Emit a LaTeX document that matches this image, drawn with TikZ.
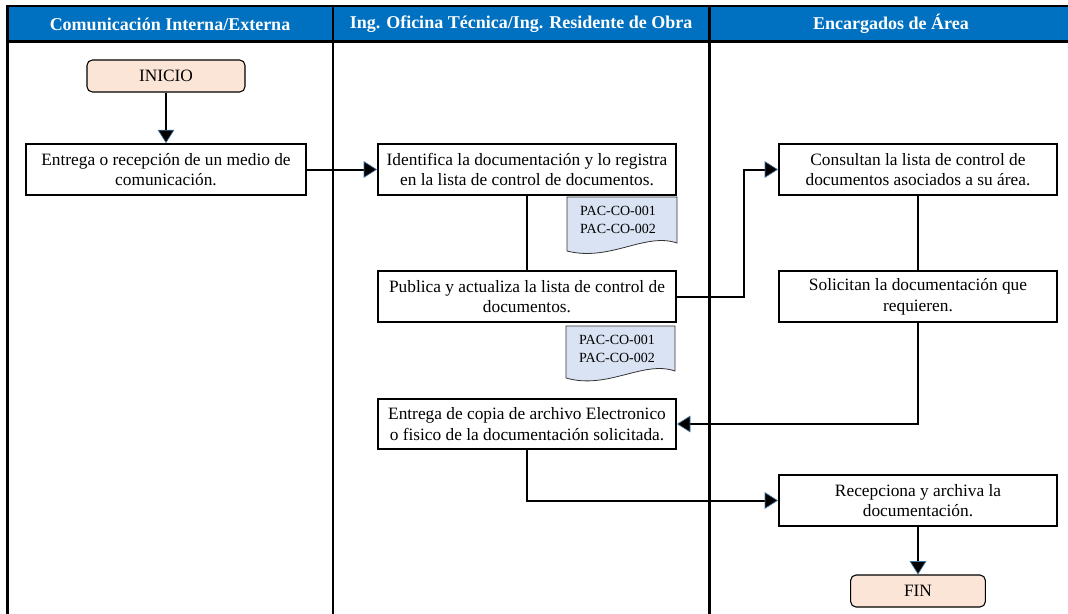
\documentclass[tikz,border=0pt]{standalone}
\usepackage{fontspec}
\setmainfont{Liberation Serif}
\usetikzlibrary{arrows.meta}
\definecolor{laneblue}{HTML}{0070C0}
\definecolor{termfill}{HTML}{FBE5D6}
\definecolor{docfill}{HTML}{DAE3F3}
\definecolor{tipblue}{HTML}{41719C}
\begin{document}
\begin{tikzpicture}[x=0.75pt, y=-0.75pt,
        proc/.style={draw, line width=1.5pt, fill=white, align=center, inner sep=0pt, minimum height=38pt, font=\fontsize{13}{15.5}\selectfont},
        term/.style={draw, line width=0.8pt, rounded corners=4pt, fill=termfill, minimum height=24pt, font=\fontsize{13}{15.5}\selectfont},
        docshape/.style={draw=black!80, line width=0.6pt, fill=docfill},
        doctext/.style={align=left, inner sep=0pt, font=\fontsize{10.5}{13.5}\selectfont},
        headtext/.style={text=white, font=\bfseries\fontsize{13.5}{15}\selectfont},
        lane/.style={line width=1.75pt},
        conn/.style={line width=1.5pt},
        arr/.style={conn, -{Triangle[length=10pt, width=12.5pt, color=tipblue, fill=black, line width=0.5pt]}}]
        \useasboundingbox (0,0) rectangle (1068,614);
        \fill[laneblue] (7,6) rectangle (1068,41);
        \draw[line width=1.5pt] (7,6) -- (1068,6);
        \draw[line width=2pt] (7,41.5) -- (1068,41.5);
        \foreach \lx in {7.5,333,709.5}
            \draw[lane] (\lx,5) -- (\lx,614);
        \node[headtext] (hcom) at (170,24) {Comunicación Interna/Externa};
        \node[headtext] (hing) at (521,24) {Ing. Oficina Técnica/Ing. Residente de Obra};
        \node[headtext] (henc) at (891,24) {Encargados de Área};

        \node[term, minimum width=118.5pt] (inicio) at (166,76) {INICIO};
        \node[proc, minimum width=210pt] (entrega) at (166,169.5) {Entrega o recepción de un medio de\\comunicación.};
        \node[proc, minimum width=223.5pt] (ident) at (527,169.5) {Identifica la documentación y lo registra\\en la lista de control de documentos.};
        \node[proc, minimum width=223.5pt] (publica) at (527,296.5) {Publica y actualiza la lista de control de\\documentos.};
        \node[proc, minimum width=223.5pt] (copia) at (527,424) {Entrega de copia de archivo Electronico\\o fisico de la documentación solicitada.};
        \node[proc, minimum width=208.5pt] (consultan) at (918,169.5) {Consultan la lista de control de\\documentos asociados a su área.};
        \node[proc, minimum width=208.5pt] (solicitan) at (918,296.5) {Solicitan la documentación que\\requieren.};
        \node[proc, minimum width=208.5pt] (recep) at (918,500.5) {Recepciona y archiva la\\documentación.};
        \node[term, minimum width=101pt] (fin) at (918,591) {FIN};

        \draw[docshape] (567,197) -- (677,197) -- (677,243) .. controls (645,232) and (610,262) .. (567,251) -- cycle;
        \node[doctext] (docA) at (618,220) {PAC-CO-001\\PAC-CO-002};
        \draw[docshape] (566,326) -- (675,326) -- (675,371) .. controls (643,360) and (608,390) .. (566,378) -- cycle;
        \node[doctext] (docB) at (617,349) {PAC-CO-001\\PAC-CO-002};

        \draw[arr] (inicio) -- (entrega);
        \draw[arr] (entrega) -- (ident);
        \draw[conn] (ident) -- (publica);
        \draw[arr] (publica.east) -- ++(67,0) |- (consultan.west);
        \draw[conn] (consultan) -- (solicitan);
        \draw[arr] (solicitan.south) |- (copia.east);
        \draw[arr] (copia.south) |- (recep.west);
        \draw[arr] (recep) -- (fin);
\end{tikzpicture}
\end{document}
